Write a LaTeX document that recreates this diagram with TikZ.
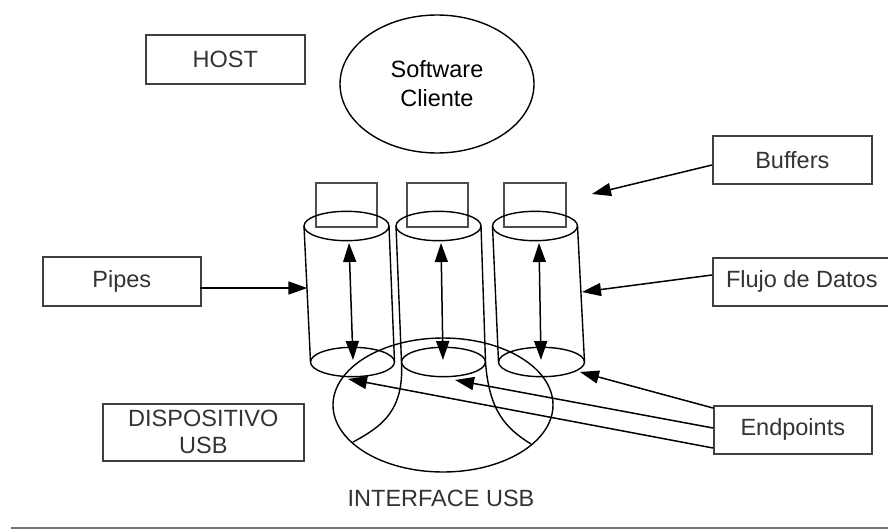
\documentclass[tikz,border=0pt]{standalone}
\usepackage{fontspec}
\setmainfont{Liberation Sans}
\usetikzlibrary{arrows.meta,shapes.geometric}
\begin{document}
\begin{tikzpicture}[x=1pt,y=-1pt,
  every node/.style={font=\fontsize{23.5}{29}\selectfont, text=black!80},
  labelbox/.style={draw=black!75, line width=1.6pt, minimum height=48pt,
    inner sep=0pt, anchor=north west, align=center},
  wire/.style={line width=1.5pt, black},
  tip/.style={-{Triangle[length=19pt,width=13pt]}},
  twotip/.style={{Triangle[length=19pt,width=13pt]}-{Triangle[length=19pt,width=13pt]}},
  shell/.style={line width=1.4pt, black},
  bufbox/.style={draw=black!70, line width=1.6pt}
]
\useasboundingbox (0,0) rectangle (888,530);

% label boxes
\node[labelbox, minimum width=159pt, minimum height=49pt] (host) at (145,34) {HOST};
\node[labelbox, minimum width=159pt] (buffers) at (712,135) {Buffers};
\node[labelbox, minimum width=178pt] (flujo) at (712,257) {Flujo de Datos};
\node[labelbox, minimum width=158pt] (endpoints) at (713,405) {Endpoints};
\node[labelbox, minimum width=158pt, minimum height=49pt] (pipes) at (42,256) {Pipes};
\node[labelbox, minimum width=201pt, minimum height=57pt,
  font=\fontsize{23.5}{27}\selectfont] (disp) at (102,403) {DISPOSITIVO\\USB};

% client software
\node[draw, shell, ellipse, minimum width=194pt, minimum height=138pt, inner sep=0pt,
  align=center] (soft) at (437,84) {Software\\Cliente};

% USB interface: sphere-like outline
\draw[shell] (443,405) ellipse [x radius=110pt, y radius=67pt];
\node (iface) at (441,498) {INTERFACE USB};

% buffers on top of the pipes
\draw[bufbox] (316,183) rectangle (377,227);
\draw[bufbox] (407,183) rectangle (468,227);
\draw[bufbox] (504,183) rectangle (566,227);

% pipe 1
\draw[shell] (346.5,226) ellipse [x radius=42.5pt, y radius=14.7pt];
\draw[shell] (352.5,362) ellipse [x radius=42pt, y radius=14.7pt];
\draw[shell] (304,226) -- (310.5,362);
\draw[shell] (389,226) -- (394.5,362);
% pipe 2 (its sides run on into the interface outline)
\draw[shell] (438.5,226) ellipse [x radius=42.5pt, y radius=14.7pt];
\draw[shell] (443.5,362) ellipse [x radius=42pt, y radius=14.7pt];
\draw[shell] (396,226) -- (401.5,362) .. controls (404,410) and (383,426) .. (353,442);
\draw[shell] (481,226) -- (485.5,362) .. controls (489,410) and (505,428) .. (531,444);
% pipe 3
\draw[shell] (535,226) ellipse [x radius=42.5pt, y radius=14.7pt];
\draw[shell] (541.5,362) ellipse [x radius=43pt, y radius=14.7pt];
\draw[shell] (492.5,226) -- (498.5,362);
\draw[shell] (577.5,226) -- (584.5,362);

% data flow inside each pipe
\coordinate (f1a) at (349,243); \coordinate (f1b) at (353,360);
\coordinate (f2a) at (441,243); \coordinate (f2b) at (443,360);
\coordinate (f3a) at (539,243); \coordinate (f3b) at (541,360);
\draw[wire,twotip] (f1a) -- (f1b);
\draw[wire,twotip] (f2a) -- (f2b);
\draw[wire,twotip] (f3a) -- (f3b);

% pointers from the labels
\coordinate (pipesout) at (200,288);   \coordinate (pipeside) at (307.3,288);
\coordinate (bufout) at (712,165);     \coordinate (bufin) at (592,194);
\coordinate (flujoout) at (712,275);   \coordinate (flujoin) at (582,292);
\coordinate (ep1) at (713,408);        \coordinate (ep1in) at (580,372);
\coordinate (ep2) at (713,428);        \coordinate (ep2in) at (455,380);
\coordinate (ep3) at (713,448);        \coordinate (ep3in) at (348,379);
\draw[wire,tip] (pipesout) -- (pipeside);
\draw[wire,tip] (bufout) -- (bufin);
\draw[wire,tip] (flujoout) -- (flujoin);
\draw[wire,tip] (ep1) -- (ep1in);
\draw[wire,tip] (ep2) -- (ep2in);
\draw[wire,tip] (ep3) -- (ep3in);

% rule under the figure
\draw[line width=1.6pt, black!55] (11,528) -- (888,528);
\end{tikzpicture}
\end{document}
